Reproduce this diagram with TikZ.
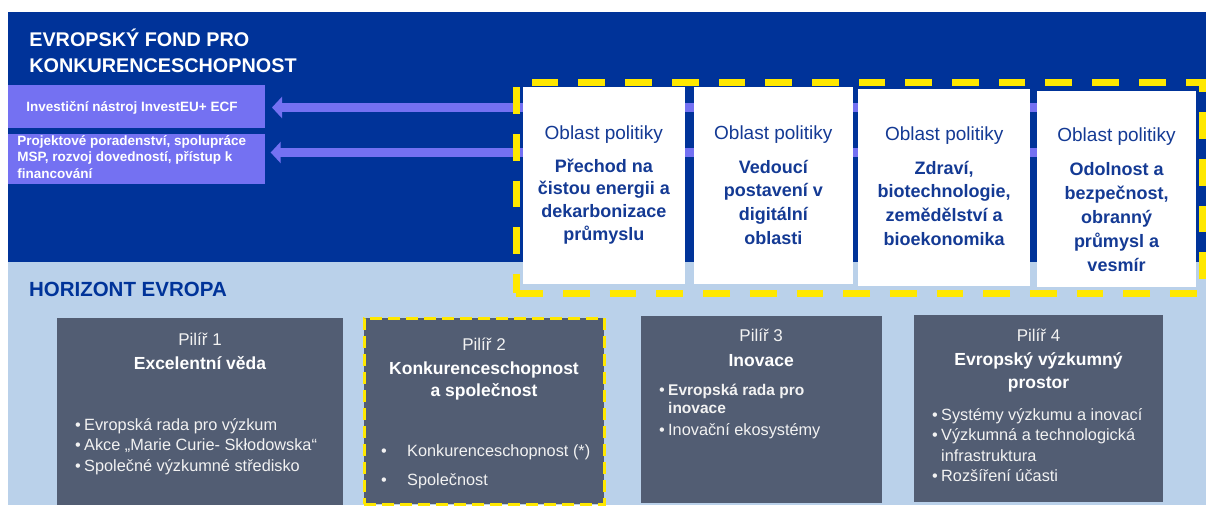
\documentclass[tikz,border=0pt]{standalone}
\usepackage{fontspec}
\setmainfont{Liberation Sans}
\usetikzlibrary{arrows.meta}
\definecolor{eublue}{HTML}{003399}
\definecolor{hzblue}{HTML}{BAD1EA}
\definecolor{purp}{HTML}{7471F2}
\definecolor{pillar}{HTML}{525D73}
\definecolor{yell}{HTML}{FFE800}
\definecolor{boxtext}{HTML}{143A94}
\definecolor{softwhite}{HTML}{F2F2F2}
\tikzset{
  every node/.style={inner sep=0pt, outer sep=0pt},
  rect/.style={rectangle, anchor=north west, draw=none},
  flow/.style={draw=purp, line width=8.4pt, -{Triangle[length=10pt,width=21pt]}, shorten >=7pt},
  hdr/.style={text=white, font=\fontsize{19.8}{26}\selectfont\bfseries, align=left, anchor=base west},
  hz/.style={text=eublue, font=\fontsize{20.5}{24}\selectfont\bfseries, anchor=base west},
  purptext/.style={text=white, font=\fontsize{13.5}{16.2}\selectfont\bfseries, align=left},
  obl/.style={text=boxtext, font=\fontsize{19}{22}\selectfont, anchor=base},
  pol/.style={text=boxtext, font=\fontsize{18}{23.2}\selectfont\bfseries, align=center, anchor=base},
  pilnum/.style={text=softwhite, font=\fontsize{17}{22}\selectfont, anchor=base},
  piltitle/.style={text=white, font=\fontsize{17.5}{23}\selectfont\bfseries, align=center, anchor=base},
  bul/.style={text=softwhite, font=\fontsize{16.3}{20.8}\selectfont, align=left, anchor=base west},
}
\begin{document}
\begin{tikzpicture}[x=1pt,y=-1pt]
\useasboundingbox (0,0) rectangle (1206,506);
\fill[white] (0,0) rectangle (1206,506);
% backgrounds
\node[rect, fill=eublue, minimum width=1198pt, minimum height=250pt] (fund) at (8,12) {};
\node[rect, fill=hzblue, minimum width=1198pt, minimum height=243pt] (horizon) at (8,262) {};
% headings (base anchor = baseline of the last line)
\node[hdr] (fundtitle) at (29.3,72.7) {EVROPSKÝ FOND PRO\\KONKURENCESCHOPNOST};
\node[hz] (hztitle) at (29,296.7) {HORIZONT EVROPA};
% purple boxes
\node[rect, fill=purp, minimum width=257pt, minimum height=43pt] (inv) at (8,85) {};
\node[rect, fill=purp, minimum width=257pt, minimum height=50pt] (adv) at (8,134) {};
\node[purptext, anchor=base] (invtext) at (132,111) {Investiční nástroj InvestEU+ ECF};
\node[purptext, anchor=base west] (advtext) at (17.3,178.1) {Projektové poradenství, spolupráce\\MSP, rozvoj dovedností, přístup k\\financování};
% arrows
\coordinate (a1) at (1190,107.5);
\coordinate (a2) at (1190,152.5);
\draw[flow] (a1) -- (a1 -| inv.east);
\draw[flow, shorten >=5.7pt] (a2) -- (a2 -| adv.east);
% policy area boxes
\node[rect, fill=white, minimum width=162.3pt, minimum height=197.3pt] (pa1) at (522.7,86.7) {};
\node[rect, fill=white, minimum width=158.7pt, minimum height=197.3pt] (pa2) at (694,86.7) {};
\node[rect, fill=white, minimum width=171.7pt, minimum height=196.4pt] (pa3) at (858.3,89.3) {};
\node[rect, fill=white, minimum width=158.4pt, minimum height=196pt] (pa4) at (1037.3,90.7) {};
\node[obl] (o1) at (603.8,139.3) {Oblast politiky};
\node[obl] (o2) at (773.3,139.6) {Oblast politiky};
\node[obl] (o3) at (944.2,140) {Oblast politiky};
\node[obl] (o4) at (1116.5,141) {Oblast politiky};
\node[pol, font=\fontsize{18}{22.6}\selectfont\bfseries] (t1) at (603.8,240.1) {Přechod na\\čistou energii a\\dekarbonizace\\průmyslu};
\node[pol, font=\fontsize{18}{23.6}\selectfont\bfseries] (t2) at (773.3,244.1) {Vedoucí\\postavení v\\digitální\\oblasti};
\node[pol, font=\fontsize{18}{23.6}\selectfont\bfseries] (t3) at (944.2,245.1) {Zdraví,\\biotechnologie,\\zemědělství a\\bioekonomika};
\node[pol, font=\fontsize{18}{24.2}\selectfont\bfseries] (t4) at (1116.5,271.8) {Odolnost a\\bezpečnost,\\obranný\\průmysl a\\vesmír};
% dashed frame
\node[rect, draw=yell, line width=6.5pt, dash pattern=on 26.7pt off 20pt, minimum width=686.2pt, minimum height=210.8pt] (focus) at (516.3,82.5) {};
% pillars
\node[rect, fill=pillar, minimum width=286.6pt, minimum height=186.7pt] (p1) at (56.7,318.3) {};
\node[rect, fill=pillar, draw=yell, line width=3pt, dash pattern=on 12pt off 6pt, minimum width=240pt, minimum height=186pt] (p2) at (364,318.3) {};
\node[rect, fill=pillar, minimum width=241pt, minimum height=186.7pt] (p3) at (640.7,316) {};
\node[rect, fill=pillar, minimum width=248.7pt, minimum height=186.7pt] (p4) at (914,315) {};
\node[pilnum] (n1) at (200,345) {Pilíř 1};
\node[pilnum] (n2) at (484,350) {Pilíř 2};
\node[pilnum] (n3) at (761.2,341.7) {Pilíř 3};
\node[pilnum] (n4) at (1038.5,341.7) {Pilíř 4};
\node[piltitle] (h1) at (200,369) {Excelentní věda};
\node[piltitle, font=\fontsize{17.5}{22.7}\selectfont\bfseries] (h2) at (484,396.7) {Konkurenceschopnost\\a společnost};
\node[piltitle] (h3) at (761.2,366.7) {Inovace};
\node[piltitle, font=\fontsize{17.5}{23.3}\selectfont\bfseries] (h4) at (1038.5,388.3) {Evropský výzkumný\\prostor};
\node[bul] (b1) at (75,471.7) {•\hspace{3.5pt}Evropská rada pro výzkum\\•\hspace{3.5pt}Akce „Marie Curie- Skłodowska“\\•\hspace{3.5pt}Společné výzkumné středisko};
\node[bul, font=\fontsize{16.3}{28.3}\selectfont] (b2) at (381,485) {•\hspace{20.5pt}Konkurenceschopnost (*)\\•\hspace{20.5pt}Společnost};
\node[bul, font=\fontsize{16.3}{18.3}\selectfont] (b3) at (659,435) {•\hspace{3.5pt}{\fontsize{15.5}{18.3}\selectfont\bfseries Evropská rada pro}\\\hphantom{•\hspace{3.5pt}}{\fontsize{15.5}{18.3}\selectfont\bfseries inovace}\\[3.4pt]•\hspace{3.5pt}Inovační ekosystémy};
\node[bul, font=\fontsize{16.3}{20.6}\selectfont] (b4) at (932,481.8) {•\hspace{3.5pt}Systémy výzkumu a inovací\\•\hspace{3.5pt}Výzkumná a technologická\\\hphantom{•\hspace{3.5pt}}infrastruktura\\•\hspace{3.5pt}Rozšíření účasti};
\end{tikzpicture}
\end{document}
